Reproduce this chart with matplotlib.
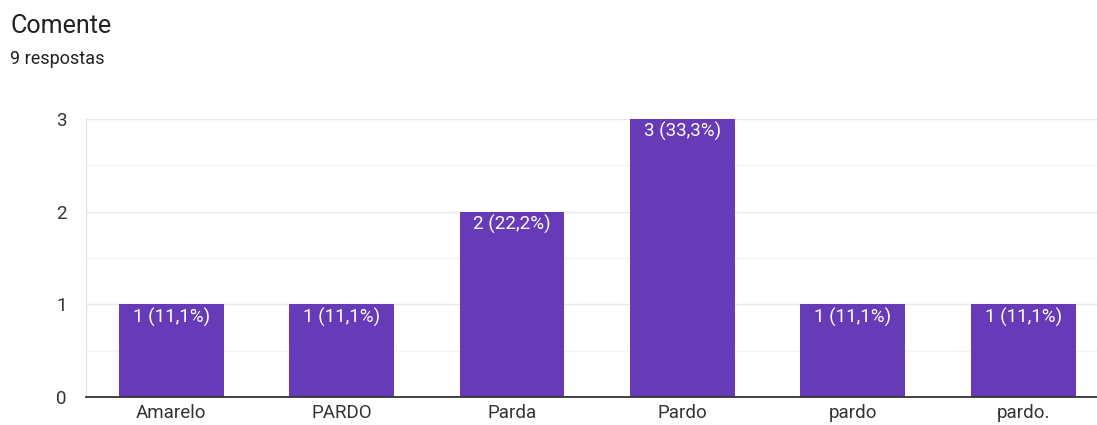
import matplotlib
matplotlib.use('Agg')
from matplotlib import pyplot as plt

plt.rcParams['font.family'] = ['Roboto', 'DejaVu Sans']

categories = ['Amarelo', 'PARDO', 'Parda', 'Pardo', 'pardo', 'pardo.']
counts = [1, 1, 2, 3, 1, 1]
total = 9
y_ticks = [0, 1, 2, 3]

fig = plt.figure(figsize=(10.97, 4.25), dpi=100)
fig.text(10 / 1097, 1 - 26 / 425, 'Comente', fontsize=18, color='#202124', va='center', ha='left')
fig.text(10 / 1097, 1 - 59 / 425, '9 respostas', fontsize=13, color='#202124', va='center', ha='left')

ax = fig.add_axes([86 / 1097, 28 / 425, (6 * 170.4) / 1097, 278 / 425])
x = list(range(len(categories)))
bars = ax.bar(x, counts, width=0.616, color='#673ab7', zorder=3)

for b, c in zip(bars, counts):
    pct = f'{c} ({100 * c / total:.1f}%)'.replace('.', ',')
    ax.text(b.get_x() + b.get_width() / 2, c - 0.035, pct, ha='center', va='top',
            color='white', fontsize=13.5, zorder=4)

ax.set_xlim(-0.5, 5.5)
ax.set_ylim(0, 3)
ax.set_yticks(y_ticks)
ax.set_yticks([0.5, 1.5, 2.5], minor=True)
ax.set_xticks(x)
ax.set_xticklabels(categories)
ax.tick_params(axis='both', length=0, labelsize=13.5, colors='#333333')
ax.tick_params(axis='y', pad=14)
ax.tick_params(axis='x', pad=5)
ax.tick_params(axis='y', which='minor', length=0)
ax.grid(axis='y', which='major', color='#e8e8e8', linewidth=1, zorder=0)
ax.grid(axis='y', which='minor', color='#f3f3f3', linewidth=1, zorder=0)
for s in ['top', 'right']:
    ax.spines[s].set_visible(False)
ax.spines['left'].set_color('#e0e0e0')
ax.spines['bottom'].set_color('#333333')
ax.spines['bottom'].set_linewidth(1.3)
ax.spines['bottom'].set_zorder(5)

fig.savefig('out.png', dpi=100)
